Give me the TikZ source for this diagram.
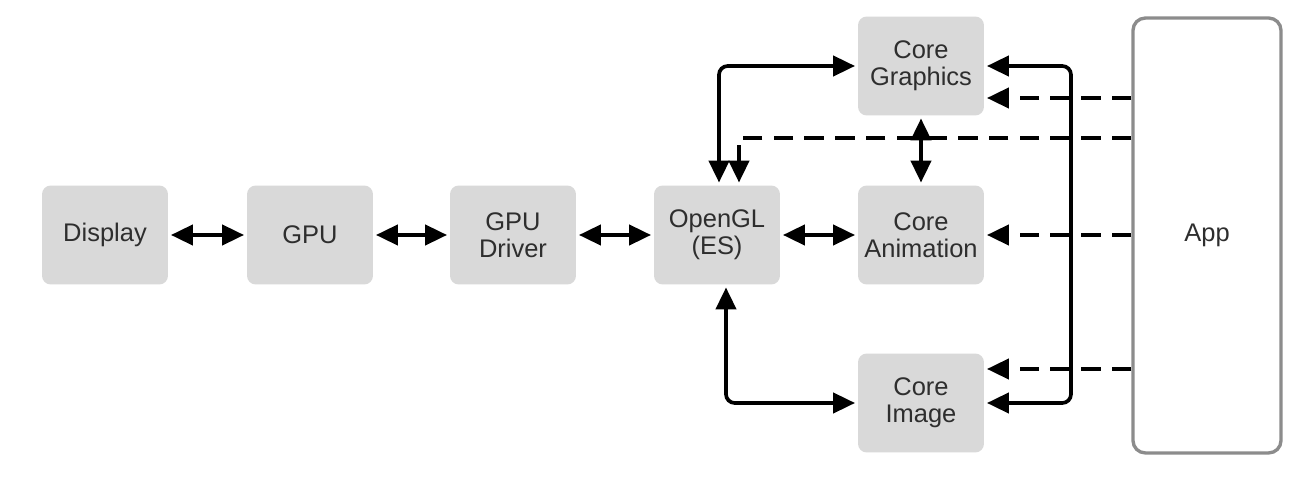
\documentclass[tikz,border=0pt]{standalone}
\usepackage{fontspec}
\setmainfont{Liberation Sans}
\usetikzlibrary{arrows.meta}
\definecolor{boxfill}{HTML}{D9D9D9}
\definecolor{txt}{HTML}{2E2E2E}
\definecolor{appline}{HTML}{8C8C8C}
\tikzset{
  blk/.style={fill=boxfill, draw=none, rounded corners=5pt, minimum width=2.52cm, minimum height=1.98cm,
    inner sep=0pt, outer sep=1.7pt, align=center, text=txt, font=\fontsize{14.5}{15.5}\selectfont},
  appbox/.style={draw=appline, line width=1.9pt, fill=white, rounded corners=7pt, minimum width=2.96cm,
    minimum height=8.7cm, inner sep=0pt, outer sep=1pt, text=txt, font=\fontsize{14.5}{15.5}\selectfont},
  tip/.tip={Triangle[length=12.5pt, width=11.5pt]},
  conn/.style={line width=2.1pt, black},
  dbl/.style={conn, tip-tip},
  one/.style={conn, -tip},
  dsh/.style={conn, -tip, dash pattern=on 11pt off 6.5pt}
}
\begin{document}
\begin{tikzpicture}[x=0.02cm, y=-0.02cm]
\useasboundingbox (0,0) rectangle (1296,482);
\fill[white] (0,0) rectangle (1296,482);

\node[blk] (disp) at (105,235) {\raisebox{-1.5pt}{Display}};
\node[blk] (gpu) at (310,235) {GPU};
\node[blk] (drv) at (513,235) {GPU\\Driver};
\node[blk] (gl) at (717,235) {OpenGL\\(ES)};
\node[blk] (cg) at (921,66) {Core\\Graphics};
\node[blk] (ca) at (921,235) {Core\\Animation};
\node[blk] (ci) at (921,403) {Core\\Image};
\node[appbox] (app) at (1207,235.5) {App};

\coordinate (a1) at (719,68);
\coordinate (a2) at (739,138);
\coordinate (a3) at (726,403);
\coordinate (b1) at (1071,235);
\coordinate (d1) at (0,98);
\coordinate (d3) at (0,369);

\draw[dbl] (disp) -- (gpu);
\draw[dbl] (gpu) -- (drv);
\draw[dbl] (drv) -- (gl);
\draw[dbl] (gl) -- (ca);
\draw[dbl] (cg) -- (ca);

\draw[dbl, rounded corners=5pt] (gl.north -| a1) |- (cg.west);
\draw[dbl, rounded corners=5pt] (gl.south -| a3) |- (ci.west);
\draw[dbl, rounded corners=5pt] (cg.east) -| (b1) |- (ci.east);

\draw[dsh] (app.west |- a2) -| (gl.north -| a2);
\draw[dsh] (app.west |- d1) -- (cg.east |- d1);
\draw[dsh] (app.west |- ca) -- (ca.east);
\draw[dsh] (app.west |- d3) -- (ci.east |- d3);
\end{tikzpicture}
\end{document}
